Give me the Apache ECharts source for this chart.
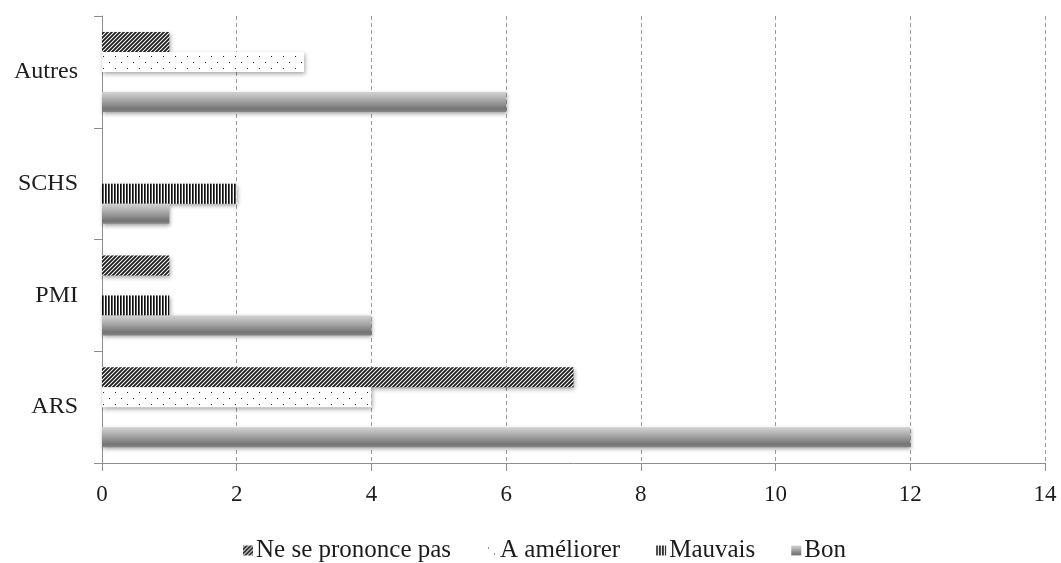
<!DOCTYPE html>
<html>
<head>
<meta charset="utf-8">
<script src="https://cdn.jsdelivr.net/npm/echarts@6/dist/echarts.min.js"></script>
<style>
  html, body { margin: 0; padding: 0; background: #ffffff; }
  #chart { width: 1061px; height: 563px; }
</style>
</head>
<body>
<div id="chart"></div>
<script>
// Categories, bottom to top on the vertical axis
const categories = ['ARS', 'PMI', 'SCHS', 'Autres'];
// Series names, in legend order
const seriesNames = ['Ne se prononce pas', 'A améliorer', 'Mauvais', 'Bon'];
// Values per category (ARS, PMI, SCHS, Autres)
const nspValues = [7, 1, 0, 1];
const ameliorerValues = [4, 0, 0, 3];
const mauvaisValues = [0, 1, 2, 0];
const bonValues = [12, 4, 1, 6];
// Horizontal axis range and step
const xMin = 0;
const xMax = 14;
const xStep = 2;

const FONT = 'Liberation Serif';
const TEXT = '#1c1c1c';
const AXIS = '#8e8e8e';

// Small repeating canvas tiles used as fill patterns
function tile(w, h, draw) {
  const c = document.createElement('canvas');
  c.width = w; c.height = h;
  const g = c.getContext('2d');
  g.fillStyle = '#ffffff';
  g.fillRect(0, 0, w, h);
  draw(g);
  return c;
}

// Diagonal hatching "////"
const hatchTile = tile(4, 4, g => {
  g.strokeStyle = '#1a1a1a';
  g.lineWidth = 1.8;
  g.beginPath();
  g.moveTo(-1, 5); g.lineTo(5, -1);
  g.moveTo(-1, 1); g.lineTo(1, -1);
  g.moveTo(3, 5); g.lineTo(5, 3);
  g.stroke();
});

// Sparse staggered dots
const dotTile = tile(12, 12, g => {
  g.fillStyle = '#222222';
  g.fillRect(1, 2, 1, 1);
  g.fillRect(7, 8, 1, 1);
});

// Fine vertical lines
const vlineTile = tile(3, 2, g => {
  g.fillStyle = '#0f0f0f';
  g.fillRect(0, 0, 1, 2);
  g.fillStyle = '#5a5a5a';
  g.fillRect(1, 0, 1, 2);
});

const hatch = { image: hatchTile, repeat: 'repeat' };
const dots = { image: dotTile, repeat: 'repeat' };
const vlines = { image: vlineTile, repeat: 'repeat' };
const cylinder = new echarts.graphic.LinearGradient(0, 0, 0, 1, [
  { offset: 0, color: '#d4d4d4' },
  { offset: 0.45, color: '#a4a4a4' },
  { offset: 0.85, color: '#747474' },
  { offset: 1, color: '#858585' }
]);

const fills = [hatch, dots, vlines, cylinder];
const values = [nspValues, ameliorerValues, mauvaisValues, bonValues];

const chart = echarts.init(document.getElementById('chart'), null, { renderer: 'canvas' });

chart.setOption({
  animation: false,
  backgroundColor: '#ffffff',
  textStyle: { fontFamily: FONT, color: TEXT },
  grid: { left: 102, right: 16, top: 16, bottom: 100, containLabel: false },
  legend: {
    data: seriesNames,
    left: 238,
    top: 533,
    itemWidth: 10,
    itemHeight: 10,
    itemGap: 36,
    icon: 'rect',
    textStyle: { fontFamily: FONT, fontSize: 25, color: TEXT, padding: [0, 0, 0, -2] },
    itemStyle: { shadowBlur: 0, shadowOffsetX: 0, shadowOffsetY: 0 }
  },
  xAxis: {
    type: 'value',
    min: xMin,
    max: xMax,
    interval: xStep,
    axisLine: { show: true, lineStyle: { color: AXIS, width: 1 } },
    axisTick: { show: true, length: 8, lineStyle: { color: AXIS } },
    axisLabel: { margin: 20, fontFamily: FONT, fontSize: 23, color: TEXT },
    splitLine: { show: true, lineStyle: { color: '#9c9c9c', type: [4, 3], width: 1 } }
  },
  yAxis: {
    type: 'category',
    data: categories,
    axisLine: { show: true, lineStyle: { color: AXIS, width: 1 } },
    axisTick: { show: true, length: 8, lineStyle: { color: AXIS } },
    axisLabel: { margin: 24, fontFamily: FONT, fontSize: 24, color: TEXT },
    splitLine: { show: false }
  },
  series: seriesNames.map((name, i) => ({
    name: name,
    type: 'bar',
    data: values[i],
    barWidth: 20,
    barGap: '0%',
    itemStyle: {
      color: fills[i],
      shadowBlur: 4,
      shadowColor: 'rgba(0,0,0,0.35)',
      shadowOffsetX: 1,
      shadowOffsetY: 2
    }
  }))
});
</script>
</body>
</html>
